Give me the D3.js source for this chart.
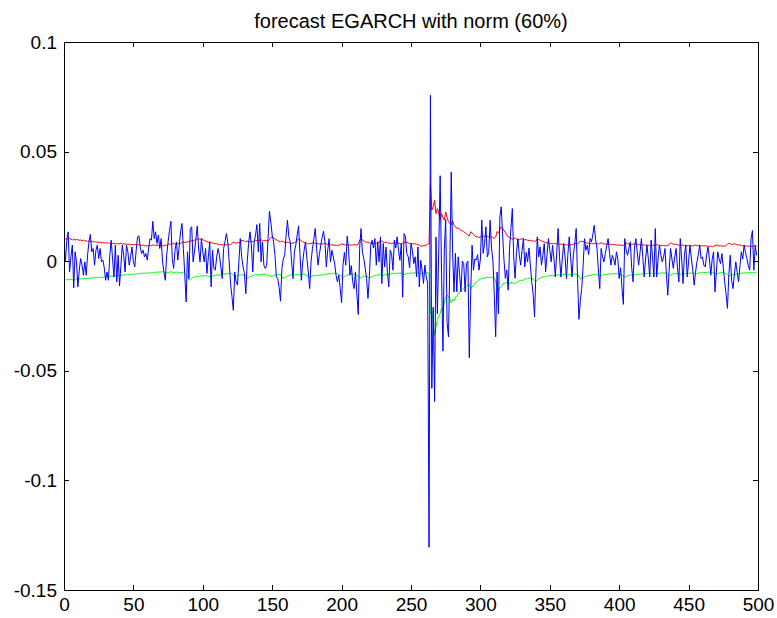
<!DOCTYPE html>
<html>
<head>
<meta charset="utf-8">
<script src="https://cdn.jsdelivr.net/npm/d3@7"></script>
<style>
  html, body { margin: 0; padding: 0; background: #fff; }
  svg { display: block; }
  text { font-family: "Liberation Sans", Arial, Helvetica, sans-serif; fill: #000; }
</style>
</head>
<body>
<svg id="chart" width="777" height="618"></svg>
<script>
// ---- data -------------------------------------------------------------
const title = "forecast EGARCH with norm (60%)";

const xTicks = [0, 50, 100, 150, 200, 250, 300, 350, 400, 450, 500];
const xTickLabels = ["0", "50", "100", "150", "200", "250", "300", "350", "400", "450", "500"];
const yTicks = [-0.15, -0.1, -0.05, 0, 0.05, 0.1];
const yTickLabels = ["-0.15", "-0.1", "-0.05", "0", "0.05", "0.1"];

// returns (blue)
const returns = [
  .0096,-.0003,.0096,.0134,-.0049,.0020,.0073,-.0122,.0043,-.0003,
  -.0117,-.0040,.0012,-.0018,-.0064,-.0003,-.0064,.0030,.0088,.0122,
  .0043,.0058,-.0018,.0050,.0073,.0012,.0058,-.0003,.0005,-.0030,
  -.0087,-.0049,-.0087,.0027,.0096,.0010,-.0072,.0073,-.0094,.0027,
  -.0113,-.0020,.0073,.0027,-.0049,.0073,.0043,-.0018,.0020,.0065,
  -.0003,-.0026,.0050,.0111,.0116,.0060,.0035,.0050,.0020,.0035,
  .0005,.0060,.0103,.0096,.0182,.0103,.0134,.0081,.0119,.0058,
  .0103,-.0003,-.0049,-.0087,.0030,.0088,.0140,.0182,.0012,-.0033,
  .0050,.0088,.0005,.0070,.0134,.0172,.0058,-.0060,-.0186,.0043,
  -.0079,.0149,.0157,-.0003,.0043,.0100,.0161,.0060,-.0003,.0103,
  .0043,-.0003,.0058,-.0056,.0020,.0088,-.0117,.0050,-.0033,-.0041,
  .0020,.0058,.0027,-.0026,-.0079,.0058,.0090,.0126,.0088,-.0003,
  -.0102,-.0160,-.0224,-.0049,-.0094,-.0109,-.0003,.0103,.0020,-.0026,
  -.0056,-.0148,-.0003,.0081,.0134,.0073,-.0049,.0088,.0120,.0167,
  .0043,.0172,-.0003,.0088,-.0018,-.0033,-.0020,.0103,.0228,.0179,
  .0119,.0088,.0027,-.0072,-.0079,-.0120,-.0182,-.0033,.0010,.0027,
  .0119,.0187,.0110,.0088,-.0003,-.0079,.0043,.0073,.0120,.0161,
  .0035,-.0087,-.0003,.0050,.0088,.0012,-.0049,-.0125,-.0003,.0058,
  .0100,.0149,.0058,-.0018,.0030,.0073,.0110,.0137,.0088,-.0026,
  .0050,.0103,-.0003,.0050,.0020,-.0011,-.0064,-.0094,-.0064,-.0125,
  -.0189,-.0018,.0040,-.0018,.0114,.0058,-.0064,-.0020,-.0094,-.0125,
  -.0049,-.0150,-.0243,.0058,.0149,.0043,.0012,-.0030,-.0079,-.0170,
  -.0072,.0073,.0096,.0060,.0103,-.0018,.0088,-.0003,.0111,-.0102,
  .0081,-.0026,.0065,-.0050,-.0117,.0050,.0035,-.0041,.0096,.0060,
  .0111,.0050,.0004,.0081,-.0164,.0126,.0111,.0035,.0020,-.0030,
  .0081,.0050,-.0011,.0020,-.0072,.0065,-.0117,.0004,-.0040,-.0102,
  -.0018,-.0072,-.0100,-.1305,.0757,-.0580,-.0210,-.0640,.0110,-.0240,
  .0050,.0390,-.0050,-.0410,.0050,.0190,-.0280,-.0345,.0000,.0407,
  .0036,-.0140,.0036,-.0140,.0020,-.0060,-.0140,.0000,-.0010,-.0140,
  -.0010,.0000,-.0440,-.0150,.0073,-.0041,.0010,.0005,.0030,-.0041,
  .0010,.0187,.0036,.0080,.0157,.0020,.0040,.0187,.0060,.0005,
  -.0150,-.0345,-.0050,-.0240,.0202,.0248,.0120,.0005,-.0078,-.0040,
  -.0132,.0060,.0150,.0240,.0020,-.0078,.0040,.0103,.0030,-.0018,
  .0050,.0103,-.0026,.0040,-.0003,.0060,-.0018,-.0094,-.0150,-.0254,
  -.0050,.0111,.0020,.0065,-.0018,.0027,.0080,-.0049,.0030,.0103,
  .0050,-.0003,.0073,.0010,-.0072,.0040,.0149,.0020,-.0072,.0010,
  .0081,.0020,-.0079,.0030,.0111,.0020,-.0072,.0030,.0080,.0149,
  -.0079,-.0265,-.0180,-.0125,-.0020,.0103,.0050,.0073,.0030,.0103,
  .0088,.0120,.0164,.0100,.0058,-.0040,-.0125,.0058,.0020,-.0003,
  .0035,.0070,.0103,.0040,-.0018,.0027,.0010,-.0018,.0043,.0010,
  -.0079,-.0030,-.0120,-.0197,.0103,.0050,.0027,.0060,.0088,-.0030,
  -.0094,.0060,.0103,.0043,-.0018,.0040,.0103,.0020,-.0072,.0010,
  .0073,.0010,-.0072,.0096,.0020,-.0072,.0149,-.0072,.0010,.0073,
  .0030,-.0003,.0020,.0058,-.0060,-.0155,-.0040,.0058,.0010,-.0033,
  .0020,.0058,-.0030,-.0094,.0103,.0010,-.0102,.0030,.0073,-.0072,
  .0000,.0073,.0012,-.0040,-.0109,-.0050,-.0003,.0030,.0073,.0012,
  .0020,-.0018,-.0026,.0030,.0065,.0010,-.0064,.0010,.0043,-.0140,
  -.0050,.0043,.0010,-.0011,.0035,-.0030,-.0094,-.0150,-.0215,-.0060,
  .0027,-.0087,-.0125,-.0060,-.0003,-.0050,-.0094,-.0020,.0043,.0010,
  .0073,.0040,.0012,-.0020,-.0041,.0103,.0140,-.0041,.0070,.0027
];

// upper forecast band (red)
const upperBand = [
  .0105,.0101,.0103,.0099,.0104,.0100,.0097,.0102,.0096,.0099,
  .0098,.0095,.0097,.0093,.0096,.0092,.0094,.0090,.0093,.0089,
  .0091,.0088,.0090,.0086,.0089,.0085,.0087,.0084,.0086,.0083,
  .0085,.0082,.0084,.0080,.0083,.0081,.0079,.0082,.0078,.0081,
  .0079,.0083,.0078,.0080,.0077,.0079,.0076,.0078,.0075,.0077,
  .0074,.0076,.0078,.0074,.0076,.0073,.0071,.0074,.0070,.0072,
  .0069,.0071,.0073,.0070,.0075,.0072,.0074,.0071,.0073,.0070,
  .0072,.0069,.0071,.0074,.0072,.0076,.0079,.0077,.0082,.0080,
  .0078,.0081,.0079,.0083,.0081,.0085,.0088,.0086,.0084,.0090,
  .0088,.0091,.0094,.0092,.0096,.0099,.0101,.0103,.0100,.0102,
  .0098,.0095,.0092,.0090,.0087,.0088,.0085,.0083,.0081,.0079,
  .0080,.0077,.0075,.0077,.0074,.0076,.0073,.0075,.0077,.0074,
  .0076,.0080,.0088,.0085,.0082,.0084,.0086,.0083,.0096,.0094,
  .0091,.0089,.0092,.0090,.0088,.0091,.0089,.0092,.0095,.0093,
  .0096,.0094,.0097,.0095,.0093,.0096,.0094,.0092,.0098,.0108,
  .0111,.0106,.0102,.0098,.0094,.0091,.0088,.0092,.0089,.0086,
  .0084,.0087,.0085,.0082,.0080,.0083,.0085,.0088,.0096,.0103,
  .0098,.0093,.0089,.0086,.0083,.0081,.0078,.0082,.0080,.0085,
  .0083,.0081,.0079,.0081,.0078,.0080,.0077,.0081,.0083,.0079,
  .0076,.0074,.0076,.0073,.0075,.0072,.0074,.0071,.0073,.0075,
  .0079,.0077,.0075,.0074,.0076,.0073,.0075,.0072,.0074,.0076,
  .0073,.0075,.0078,.0096,.0103,.0098,.0093,.0088,.0085,.0087,
  .0084,.0081,.0079,.0081,.0083,.0080,.0087,.0085,.0096,.0092,
  .0088,.0085,.0087,.0084,.0081,.0083,.0080,.0082,.0086,.0084,
  .0081,.0083,.0080,.0078,.0082,.0085,.0088,.0086,.0083,.0081,
  .0079,.0081,.0078,.0080,.0077,.0075,.0073,.0070,.0068,.0072,
  .0070,.0074,.0078,.0080,.0354,.0233,.0248,.0278,.0217,.0240,
  .0220,.0187,.0217,.0200,.0187,.0225,.0200,.0180,.0172,.0165,
  .0185,.0164,.0158,.0149,.0152,.0145,.0141,.0138,.0134,.0130,
  .0125,.0119,.0115,.0134,.0130,.0122,.0115,.0111,.0112,.0108,
  .0110,.0114,.0116,.0112,.0115,.0113,.0111,.0108,.0112,.0108,
  .0104,.0110,.0135,.0128,.0145,.0157,.0150,.0141,.0130,.0120,
  .0111,.0108,.0104,.0100,.0103,.0106,.0100,.0096,.0098,.0100,
  .0103,.0100,.0097,.0099,.0095,.0093,.0096,.0094,.0092,.0090,
  .0092,.0103,.0099,.0096,.0093,.0090,.0088,.0085,.0083,.0085,
  .0082,.0080,.0082,.0079,.0081,.0078,.0080,.0077,.0079,.0076,
  .0074,.0076,.0073,.0075,.0072,.0074,.0076,.0078,.0080,.0082,
  .0079,.0084,.0092,.0089,.0090,.0087,.0084,.0081,.0083,.0080,
  .0082,.0079,.0081,.0083,.0080,.0078,.0082,.0084,.0081,.0079,
  .0077,.0079,.0076,.0078,.0075,.0077,.0074,.0076,.0073,.0075,
  .0072,.0074,.0071,.0073,.0078,.0083,.0080,.0077,.0079,.0076,
  .0078,.0080,.0077,.0075,.0077,.0074,.0076,.0073,.0075,.0072,
  .0074,.0071,.0073,.0070,.0072,.0074,.0071,.0076,.0073,.0071,
  .0073,.0070,.0072,.0070,.0072,.0069,.0078,.0084,.0081,.0078,
  .0076,.0078,.0075,.0073,.0075,.0072,.0074,.0071,.0073,.0070,
  .0072,.0070,.0072,.0069,.0071,.0074,.0072,.0070,.0072,.0069,
  .0071,.0069,.0071,.0068,.0070,.0067,.0069,.0066,.0068,.0070,
  .0074,.0072,.0069,.0071,.0068,.0070,.0068,.0072,.0078,.0082,
  .0079,.0076,.0078,.0080,.0077,.0075,.0073,.0075,.0072,.0070,
  .0072,.0070,.0068,.0070,.0067,.0069,.0066,.0070,.0072,.0069
];

// lower forecast band (green)
const lowerBand = [
  -.0087,-.0084,-.0086,-.0083,-.0085,-.0082,-.0084,-.0086,-.0083,-.0081,
  -.0084,-.0080,-.0082,-.0079,-.0081,-.0078,-.0080,-.0077,-.0079,-.0076,
  -.0078,-.0075,-.0077,-.0074,-.0076,-.0073,-.0075,-.0072,-.0074,-.0071,
  -.0073,-.0070,-.0068,-.0071,-.0067,-.0069,-.0066,-.0068,-.0065,-.0067,
  -.0064,-.0066,-.0063,-.0065,-.0062,-.0060,-.0063,-.0059,-.0061,-.0058,
  -.0060,-.0057,-.0059,-.0056,-.0058,-.0055,-.0057,-.0054,-.0056,-.0053,
  -.0055,-.0052,-.0054,-.0051,-.0053,-.0050,-.0052,-.0049,-.0051,-.0048,
  -.0050,-.0047,-.0049,-.0051,-.0054,-.0052,-.0050,-.0048,-.0050,-.0053,
  -.0051,-.0049,-.0052,-.0050,-.0053,-.0051,-.0054,-.0057,-.0062,-.0072,
  -.0087,-.0082,-.0078,-.0074,-.0071,-.0069,-.0072,-.0070,-.0067,-.0069,
  -.0066,-.0068,-.0065,-.0067,-.0070,-.0068,-.0071,-.0069,-.0066,-.0064,
  -.0062,-.0064,-.0061,-.0063,-.0060,-.0058,-.0060,-.0057,-.0055,-.0057,
  -.0055,-.0058,-.0062,-.0072,-.0069,-.0066,-.0064,-.0062,-.0064,-.0061,
  -.0063,-.0068,-.0079,-.0075,-.0071,-.0068,-.0065,-.0063,-.0061,-.0063,
  -.0060,-.0062,-.0059,-.0061,-.0058,-.0060,-.0062,-.0064,-.0067,-.0070,
  -.0068,-.0065,-.0063,-.0061,-.0063,-.0060,-.0062,-.0072,-.0079,-.0075,
  -.0071,-.0068,-.0066,-.0063,-.0061,-.0064,-.0062,-.0060,-.0063,-.0061,
  -.0063,-.0060,-.0058,-.0060,-.0062,-.0065,-.0069,-.0072,-.0070,-.0067,
  -.0065,-.0068,-.0066,-.0063,-.0065,-.0062,-.0064,-.0061,-.0059,-.0061,
  -.0058,-.0056,-.0058,-.0055,-.0057,-.0054,-.0056,-.0058,-.0061,-.0064,
  -.0068,-.0074,-.0070,-.0066,-.0063,-.0061,-.0059,-.0057,-.0060,-.0058,
  -.0061,-.0064,-.0068,-.0079,-.0074,-.0071,-.0068,-.0070,-.0067,-.0072,
  -.0078,-.0074,-.0071,-.0068,-.0065,-.0063,-.0065,-.0062,-.0060,-.0063,
  -.0065,-.0062,-.0060,-.0058,-.0062,-.0059,-.0057,-.0055,-.0057,-.0054,
  -.0056,-.0054,-.0056,-.0053,-.0055,-.0062,-.0059,-.0056,-.0054,-.0056,
  -.0053,-.0055,-.0052,-.0054,-.0056,-.0053,-.0055,-.0058,-.0056,-.0053,
  -.0055,-.0052,-.0054,-.0056,-.0239,-.0225,-.0280,-.0338,-.0300,-.0269,
  -.0250,-.0239,-.0215,-.0220,-.0186,-.0164,-.0155,-.0160,-.0175,-.0190,
  -.0175,-.0180,-.0165,-.0160,-.0150,-.0140,-.0135,-.0128,-.0123,-.0118,
  -.0115,-.0110,-.0105,-.0125,-.0118,-.0110,-.0100,-.0095,-.0090,-.0085,
  -.0082,-.0078,-.0080,-.0075,-.0078,-.0073,-.0075,-.0073,-.0075,-.0073,
  -.0075,-.0090,-.0125,-.0140,-.0120,-.0115,-.0105,-.0100,-.0100,-.0098,
  -.0095,-.0105,-.0095,-.0100,-.0098,-.0102,-.0097,-.0093,-.0090,-.0087,
  -.0089,-.0085,-.0082,-.0079,-.0081,-.0078,-.0076,-.0079,-.0083,-.0088,
  -.0092,-.0086,-.0081,-.0077,-.0074,-.0071,-.0073,-.0070,-.0068,-.0066,
  -.0068,-.0065,-.0067,-.0064,-.0066,-.0063,-.0061,-.0064,-.0062,-.0060,
  -.0062,-.0059,-.0061,-.0063,-.0060,-.0062,-.0059,-.0061,-.0058,-.0060,
  -.0062,-.0068,-.0082,-.0078,-.0075,-.0072,-.0069,-.0067,-.0064,-.0066,
  -.0063,-.0061,-.0063,-.0060,-.0062,-.0064,-.0068,-.0066,-.0063,-.0061,
  -.0059,-.0061,-.0058,-.0060,-.0057,-.0059,-.0056,-.0058,-.0055,-.0057,
  -.0059,-.0061,-.0065,-.0068,-.0074,-.0070,-.0067,-.0065,-.0062,-.0064,
  -.0066,-.0063,-.0061,-.0059,-.0061,-.0058,-.0060,-.0057,-.0059,-.0056,
  -.0058,-.0055,-.0057,-.0054,-.0056,-.0058,-.0055,-.0057,-.0054,-.0056,
  -.0053,-.0055,-.0052,-.0054,-.0056,-.0060,-.0066,-.0063,-.0060,-.0058,
  -.0056,-.0058,-.0055,-.0057,-.0060,-.0058,-.0061,-.0058,-.0056,-.0054,
  -.0056,-.0053,-.0055,-.0052,-.0055,-.0058,-.0056,-.0054,-.0052,-.0054,
  -.0051,-.0053,-.0050,-.0052,-.0049,-.0051,-.0053,-.0050,-.0052,-.0055,
  -.0058,-.0056,-.0054,-.0052,-.0050,-.0052,-.0055,-.0058,-.0063,-.0068,
  -.0065,-.0062,-.0060,-.0063,-.0060,-.0058,-.0060,-.0057,-.0055,-.0053,
  -.0055,-.0052,-.0054,-.0051,-.0053,-.0050,-.0052,-.0054,-.0051,-.0053
];

// ---- layout -----------------------------------------------------------
const svg = d3.select("#chart");
const W = 777, H = 618;
const plot = { left: 64, right: 758, top: 42, bottom: 590 };
const tickFontSize = 19;
const titleFontSize = 20;
const tickLen = 5;

const x = d3.scaleLinear().domain([0, 500]).range([plot.left, plot.right]);
const y = d3.scaleLinear().domain([-0.15, 0.1]).range([plot.bottom, plot.top]);

svg.append("rect").attr("width", W).attr("height", H).attr("fill", "#fff");

// ---- series -----------------------------------------------------------
const clipId = "plot-clip";
svg.append("clipPath").attr("id", clipId)
  .append("rect")
  .attr("x", plot.left).attr("y", plot.top)
  .attr("width", plot.right - plot.left).attr("height", plot.bottom - plot.top);

const line = d3.line().x((d, i) => x(i)).y(d => y(d));

const series = [
  { values: upperBand, color: "#ff0000" },
  { values: lowerBand, color: "#00ff00" },
  { values: returns,   color: "#0000ff" }
];

svg.append("g").attr("clip-path", `url(#${clipId})`)
  .selectAll("path")
  .data(series)
  .join("path")
  .attr("d", d => line(d.values))
  .attr("fill", "none")
  .attr("stroke", d => d.color)
  .attr("stroke-width", 1)
  .attr("stroke-linejoin", "round");

// ---- axes (box with inward ticks on all four sides) ---------------------
function styleAxis(g) {
  g.select(".domain").remove();
  g.selectAll(".tick line").attr("stroke", "#000").attr("shape-rendering", "crispEdges");
  g.selectAll(".tick text")
    .attr("font-size", tickFontSize)
    .attr("font-family", "Liberation Sans, Arial, Helvetica, sans-serif")
    .attr("fill", "#000");
}

svg.append("g")
  .attr("transform", `translate(0,${plot.bottom})`)
  .call(d3.axisBottom(x).tickValues(xTicks).tickFormat((d, i) => xTickLabels[i])
    .tickSizeInner(-tickLen).tickSizeOuter(0).tickPadding(8))
  .call(styleAxis);

svg.append("g")
  .attr("transform", `translate(0,${plot.top})`)
  .call(d3.axisTop(x).tickValues(xTicks).tickFormat("")
    .tickSizeInner(-tickLen).tickSizeOuter(0))
  .call(styleAxis);

svg.append("g")
  .attr("transform", `translate(${plot.left},0)`)
  .call(d3.axisLeft(y).tickValues(yTicks).tickFormat((d, i) => yTickLabels[i])
    .tickSizeInner(-tickLen).tickSizeOuter(0).tickPadding(7))
  .call(styleAxis);

svg.append("g")
  .attr("transform", `translate(${plot.right},0)`)
  .call(d3.axisRight(y).tickValues(yTicks).tickFormat("")
    .tickSizeInner(-tickLen).tickSizeOuter(0))
  .call(styleAxis);

svg.append("rect")
  .attr("x", plot.left + 0.5).attr("y", plot.top + 0.5)
  .attr("width", plot.right - plot.left).attr("height", plot.bottom - plot.top)
  .attr("fill", "none").attr("stroke", "#000").attr("stroke-width", 1);

// ---- title ------------------------------------------------------------
svg.append("text")
  .attr("x", (plot.left + plot.right) / 2)
  .attr("y", 28)
  .attr("text-anchor", "middle")
  .attr("font-size", titleFontSize)
  .text(title);
</script>
</body>
</html>
